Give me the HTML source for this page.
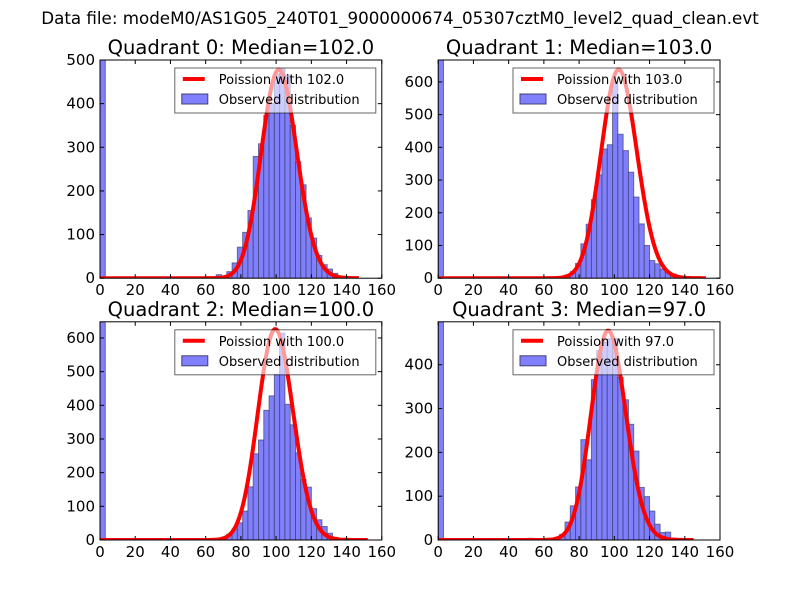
<!DOCTYPE html>
<html><head><meta charset="utf-8"><style>
html,body{margin:0;padding:0;background:#fff;}
svg text{font-family:"DejaVu Sans","Liberation Sans",sans-serif;}
</style></head><body>
<svg id="fig" width="800" height="600" xmlns="http://www.w3.org/2000/svg">
<rect width="800" height="600" fill="#fff"/>
<text x="400" y="24" font-size="16.7" text-anchor="middle">Data file: modeM0/AS1G05_240T01_9000000674_05307cztM0_level2_quad_clean.evt</text>
</svg>
<script>
// ---- data ----
const binStarts = [0,51,54,57,60,63,66,69,72,75,78,81,84,87,90,93,96,99,102,105,108,111,114,117,120,123,126,129,132,135];
const q0Counts = [500,0,0,0,0,0,8,5,15,35,71,105,155,279,308,373,400,468,480,465,350,267,214,138,92,52,31,21,11,0];
const q1Counts = [667,0,0,0,0,3,2,5,10,20,45,105,165,240,316,395,408,600,440,390,324,248,166,100,54,44,28,18,13,0];
const q2Counts = [648,0,0,3,2,3,3,4,17,32,51,86,158,256,297,385,428,492,614,403,342,259,180,157,93,60,40,20,8,0];
const q3Counts = [498,4,2,3,3,4,6,13,41,78,121,229,183,366,432,451,459,460,371,320,264,203,120,99,66,36,17,18,4,3];
const medians = [102.0,103.0,100.0,97.0];
const curveAmp = [12100,16230,15700,11800];
const curveMax = [147,152,152,145];
const yMaxes = [500,667,648,498];
const xTicks = [0,20,40,60,80,100,120,140,160];
const binWidth = 3;

const allCounts=[q0Counts,q1Counts,q2Counts,q3Counts];
const NS="http://www.w3.org/2000/svg";
const svg=document.getElementById('fig');
function mk(tag,attrs,parent){const e=document.createElementNS(NS,tag);for(const k in attrs)e.setAttribute(k,attrs[k]);(parent||svg).appendChild(e);return e;}
function lgamma(z){const c=[76.18009172947146,-86.50532032941677,24.01409824083091,-1.231739572450155,0.1208650973866179e-2,-0.5395239384953e-5];let x=z,y=z,t=x+5.5;t-=(x+0.5)*Math.log(t);let s=1.000000000190015;for(let j=0;j<6;j++)s+=c[j]/++y;return -t+Math.log(2.5066282746310005*s/x);}
function pois(k,l){return Math.exp(k*Math.log(l)-l-lgamma(k+1));}

const W=281.8,H=218.2;
const origins=[[100,60],[438.2,60],[100,321.8],[438.2,321.8]];
for(let q=0;q<4;q++){
  const [L,T]=origins[q];
  const ymax=yMaxes[q];
  const xs=v=>L+v/160*W;
  const ys=v=>T+H-Math.min(v,ymax)/ymax*H;
  const g=mk('g',{});
  
  
  const cid='clip'+q;
  const cp=mk('clipPath',{id:cid},g);mk('rect',{x:L,y:T,width:W,height:H},cp);
  const plot=mk('g',{'clip-path':'url(#'+cid+')'},g);
  const counts=allCounts[q];
  for(let i=0;i<binStarts.length;i++){
    if(counts[i]<=0)continue;
    const x0=xs(binStarts[i]),x1=xs(binStarts[i]+binWidth);
    const r=mk('rect',{x:x0,y:ys(counts[i]),width:x1-x0,height:ys(0)-ys(counts[i]),fill:'#8080ff',stroke:'#40406f','stroke-opacity':'0.7','stroke-width':'1'},plot);
    
    
  }
  let pts=[];
  for(let k=0;k<=curveMax[q];k++)pts.push(xs(k).toFixed(2)+','+ys(curveAmp[q]*pois(k,medians[q])).toFixed(2));
  const pl=mk('polyline',{points:pts.join(' '),fill:'none',stroke:'#ff0000','stroke-width':'4','stroke-linejoin':'round'},plot);
  
  
  mk('rect',{x:L,y:T,width:W,height:H,fill:'none',stroke:'#000','stroke-width':'1'},g);
  for(const t of xTicks){
    const x=xs(t);
    mk('line',{x1:x,x2:x,y1:T+H,y2:T+H-4,stroke:'#000'},g);
    mk('line',{x1:x,x2:x,y1:T,y2:T+4,stroke:'#000'},g);
    const tx=mk('text',{x:x,y:T+H+17,'font-size':'15','text-anchor':'middle'},g);
    tx.textContent=t;
    
    
  }
  for(let t=0;t<=ymax;t+=100){
    const y=ys(t);
    mk('line',{x1:L,x2:L+4,y1:y,y2:y,stroke:'#000'},g);
    mk('line',{x1:L+W,x2:L+W-4,y1:y,y2:y,stroke:'#000'},g);
    const ty=mk('text',{x:L-5,y:y+5,'font-size':'15','text-anchor':'end'},g);
    ty.textContent=t;
    
    
  }
  const title=mk('text',{x:L+W/2,y:T-6,'font-size':'19.5','text-anchor':'middle'},g);
  title.textContent='Quadrant '+q+': Median='+medians[q].toFixed(1);
  
  
  const lg=mk('g',{},g);
  
  
  const lx=L+W-207,ly=T+8;
  mk('rect',{x:lx,y:ly,width:201,height:45,fill:'#fff','fill-opacity':'0.6',stroke:'#000','stroke-opacity':'0.6'},lg);
  mk('line',{x1:lx+8,x2:lx+30,y1:ly+11,y2:ly+11,stroke:'#ff0000','stroke-width':'4'},lg);
  const t1=mk('text',{x:lx+44,y:ly+16,'font-size':'13'},lg);t1.textContent='Poission with '+medians[q].toFixed(1);
  mk('rect',{x:lx+7,y:ly+26,width:26,height:10,fill:'#8080ff',stroke:'#40406f'},lg);
  const t2=mk('text',{x:lx+44,y:ly+36,'font-size':'13'},lg);t2.textContent='Observed distribution';
}
</script>
</body></html>
